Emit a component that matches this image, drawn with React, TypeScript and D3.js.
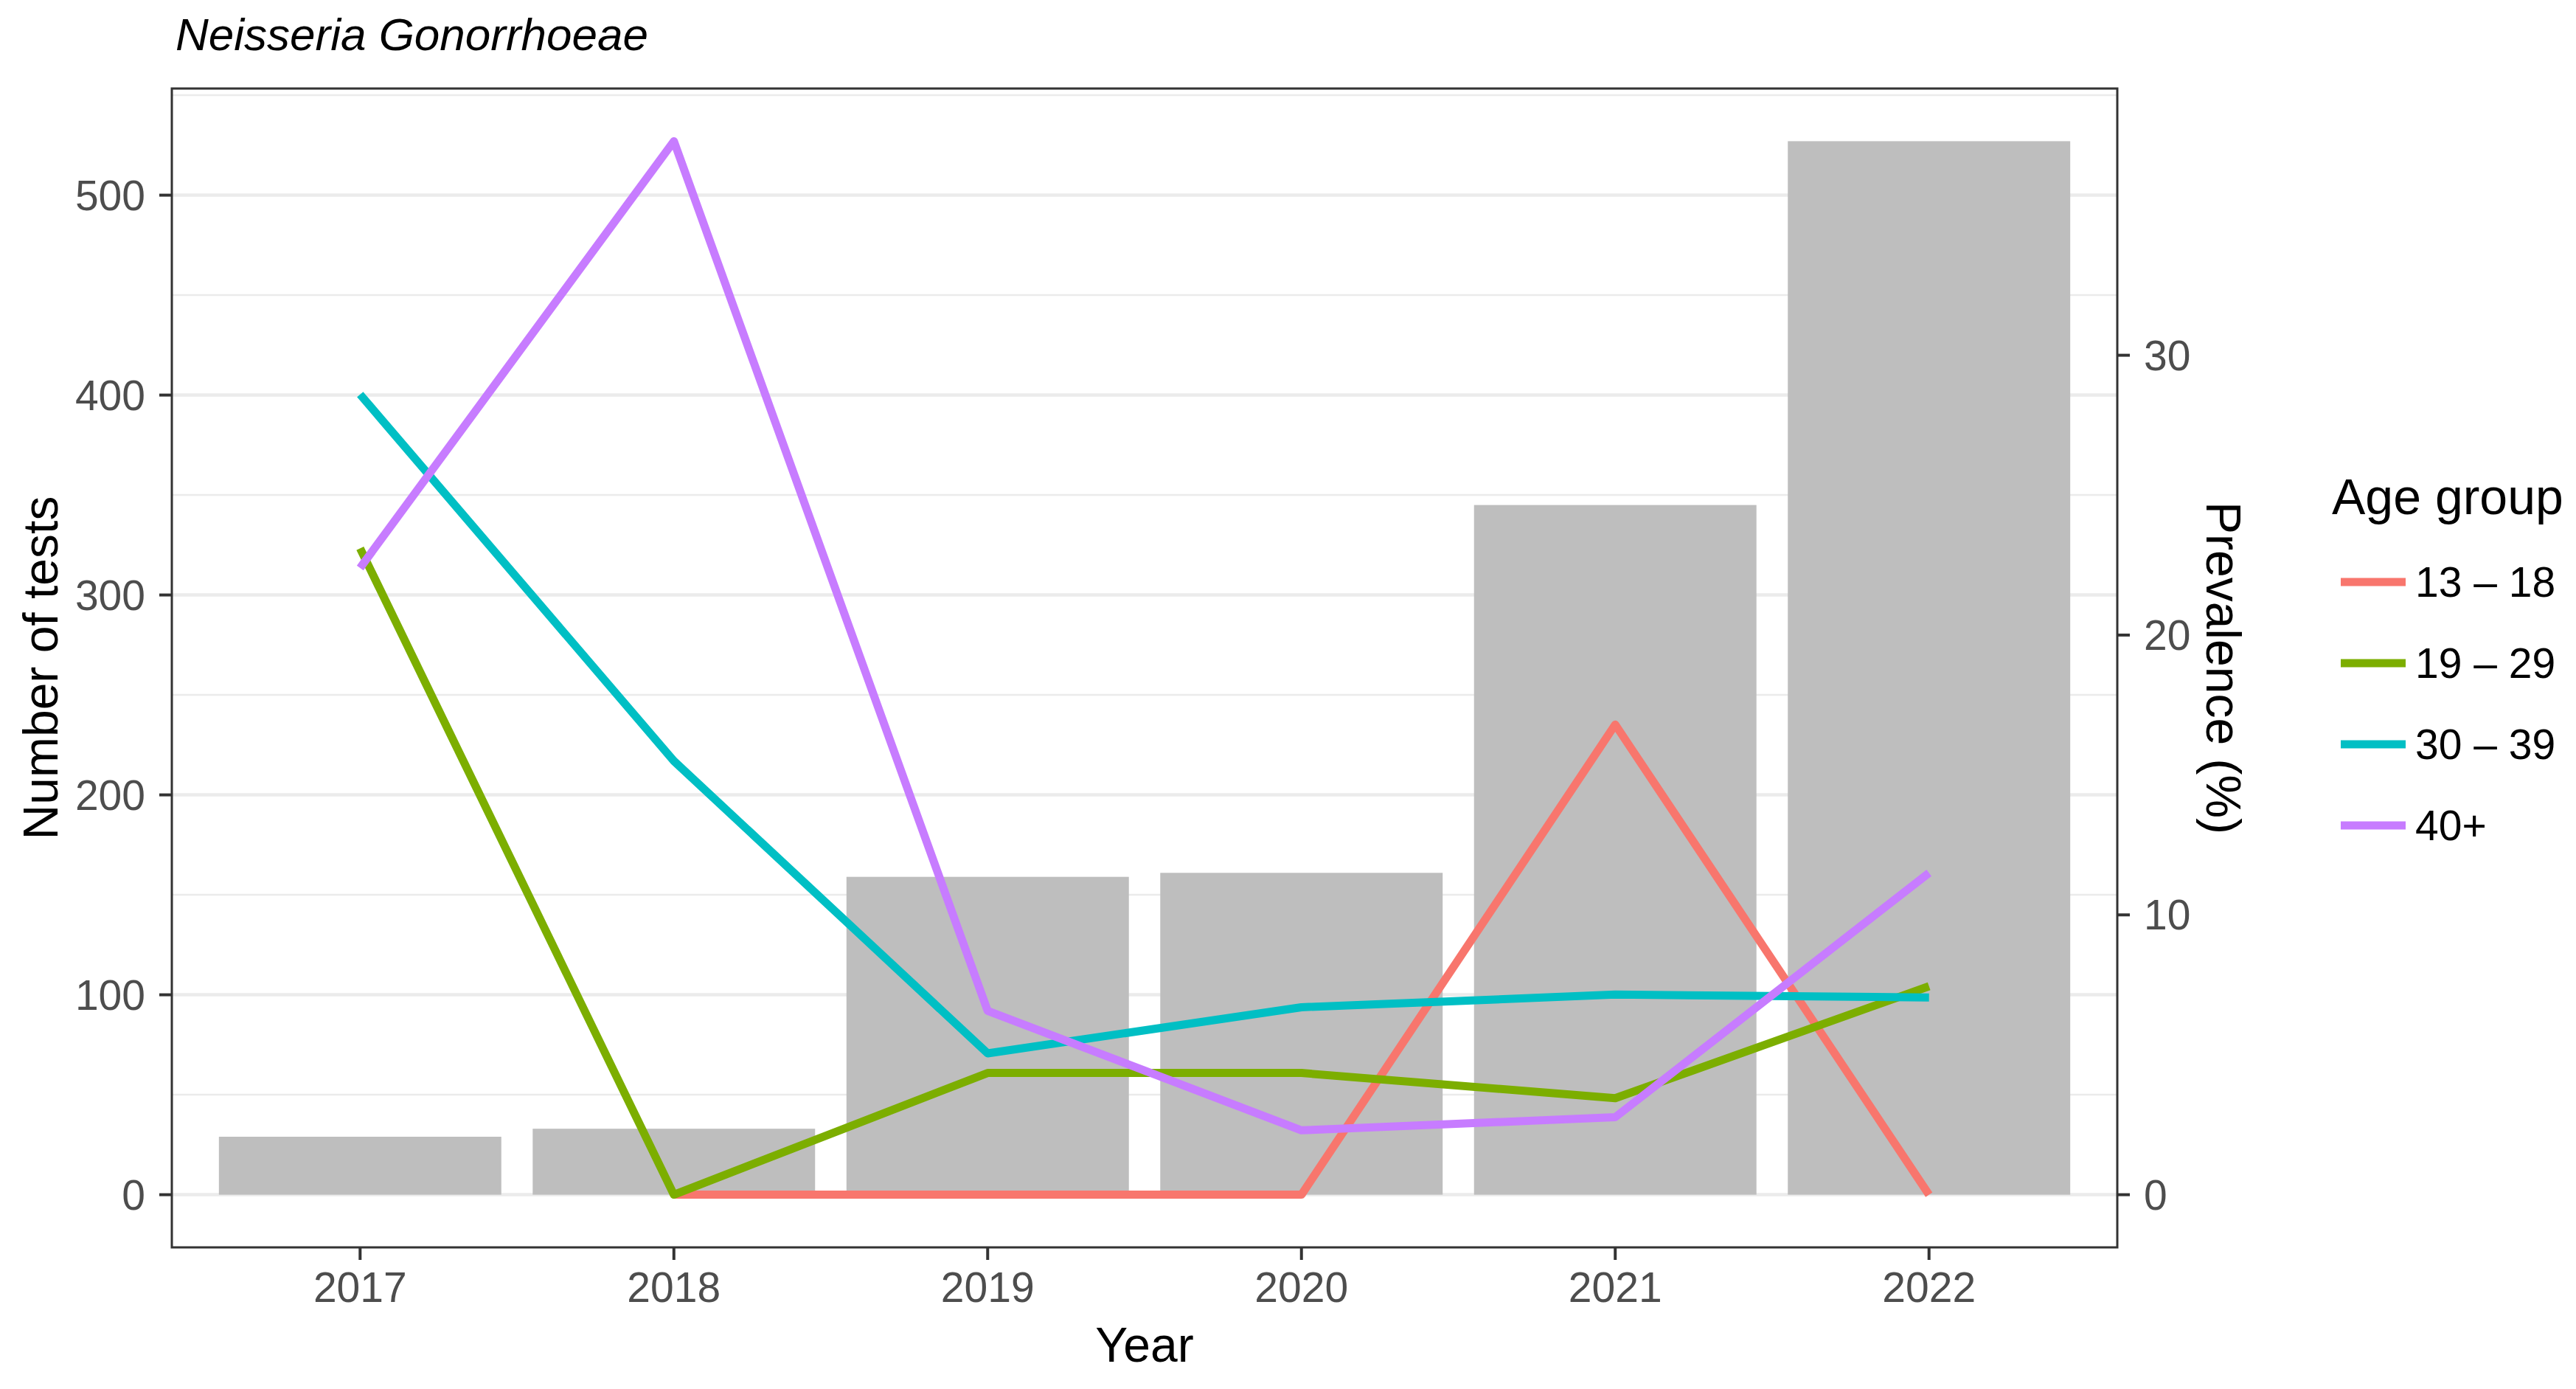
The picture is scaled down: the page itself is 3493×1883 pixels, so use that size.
import React from 'react';
import * as d3 from 'd3';

const years = ['2017', '2018', '2019', '2020', '2021', '2022'];
const tests = [29, 33, 159, 161, 345, 527];
const ageGroups = ['13 – 18', '19 – 29', '30 – 39', '40+'];
const groupColors = ['#F8766D', '#7CAE00', '#00BFC4', '#C77CFF'];
const prev13to18: (number | null)[] = [null, 0, 0, 0, 16.8, 0];
const prev19to29: (number | null)[] = [23.1, 0, 4.35, 4.35, 3.45, 7.45];
const prev30to39: (number | null)[] = [28.6, 15.5, 5.05, 6.7, 7.15, 7.05];
const prev40plus: (number | null)[] = [22.4, 37.65, 6.57, 2.3, 2.77, 11.5];
const leftTicks = [0, 100, 200, 300, 400, 500];
const leftMinor = [50, 150, 250, 350, 450, 550];
const rightTicks = [0, 10, 20, 30];

const W = 3493;
const H = 1883;
const P = { left: 233, right: 2871, top: 120, bottom: 1691 };
const FONT = '"Liberation Sans", Arial, Helvetica, sans-serif';

export default function App() {
  const series = [prev13to18, prev19to29, prev30to39, prev40plus];
  const maxTests = d3.max(tests) as number;
  const maxPrev = d3.max(series.flat().filter((v) => v != null) as number[]) as number;
  const k = maxTests / maxPrev;
  const pad = maxTests * 0.05;

  const x = d3.scalePoint<string>().domain(years).range([P.left, P.right]).padding(0.6);
  const step = x.step();
  const y = d3.scaleLinear().domain([-pad, maxTests + pad]).range([P.bottom, P.top]);
  const yPrev = (p: number) => y(p * k);

  const line = d3
    .line<number | null>()
    .defined((d) => d != null)
    .x((_, i) => x(years[i]) as number)
    .y((d) => yPrev(d as number));

  const tickLen = 17;
  const tickFs = 57;

  return (
    <svg
      width={W}
      height={H}
      style={{ position: 'absolute', left: 0, top: 0, background: '#fff' }}
      fontFamily={FONT}
    >
      <rect x={0} y={0} width={W} height={H} fill="#fff" />
      {/* title */}
      <text x={238} y={68} fontSize={62} fontStyle="italic" fill="#000">
        Neisseria Gonorrhoeae
      </text>

      {/* grid */}
      {leftMinor.map((v) => (
        <line key={'mi' + v} x1={P.left} x2={P.right} y1={y(v)} y2={y(v)} stroke="#EBEBEB" strokeWidth={2.5} />
      ))}
      {leftTicks.map((v) => (
        <line key={'ma' + v} x1={P.left} x2={P.right} y1={y(v)} y2={y(v)} stroke="#EBEBEB" strokeWidth={4.5} />
      ))}

      {/* bars */}
      {tests.map((v, i) => (
        <rect
          key={'b' + i}
          x={(x(years[i]) as number) - step * 0.45}
          width={step * 0.9}
          y={y(v)}
          height={y(0) - y(v)}
          fill="#BEBEBE"
        />
      ))}

      {/* lines */}
      {series.map((s, i) => (
        <path
          key={'l' + i}
          d={line(s) || ''}
          fill="none"
          stroke={groupColors[i]}
          strokeWidth={11}
          strokeLinejoin="round"
        />
      ))}

      {/* panel border */}
      <rect
        x={P.left}
        y={P.top}
        width={P.right - P.left}
        height={P.bottom - P.top}
        fill="none"
        stroke="#333333"
        strokeWidth={3}
      />

      {/* left axis */}
      {leftTicks.map((v) => (
        <g key={'lt' + v}>
          <line x1={P.left - tickLen} x2={P.left} y1={y(v)} y2={y(v)} stroke="#333333" strokeWidth={4} />
          <text
            x={P.left - tickLen - 19}
            y={y(v)}
            fontSize={tickFs}
            fill="#4D4D4D"
            textAnchor="end"
            dominantBaseline="central"
          >
            {v}
          </text>
        </g>
      ))}

      {/* right axis */}
      {rightTicks.map((v) => (
        <g key={'rt' + v}>
          <line x1={P.right} x2={P.right + tickLen} y1={yPrev(v)} y2={yPrev(v)} stroke="#333333" strokeWidth={4} />
          <text
            x={P.right + tickLen + 19}
            y={yPrev(v)}
            fontSize={tickFs}
            fill="#4D4D4D"
            textAnchor="start"
            dominantBaseline="central"
          >
            {v}
          </text>
        </g>
      ))}

      {/* bottom axis */}
      {years.map((yr) => (
        <g key={'bt' + yr}>
          <line
            x1={x(yr) as number}
            x2={x(yr) as number}
            y1={P.bottom}
            y2={P.bottom + tickLen}
            stroke="#333333"
            strokeWidth={4}
          />
          <text x={x(yr) as number} y={1765} fontSize={tickFs} fill="#4D4D4D" textAnchor="middle">
            {yr}
          </text>
        </g>
      ))}

      {/* axis titles */}
      <text x={(P.left + P.right) / 2} y={1846} fontSize={66} textAnchor="middle" fill="#000">
        Year
      </text>
      <text
        transform={`translate(78, ${(P.top + P.bottom) / 2}) rotate(-90)`}
        fontSize={66}
        textAnchor="middle"
        fill="#000"
      >
        Number of tests
      </text>
      <text
        transform={`translate(2992, ${(P.top + P.bottom) / 2}) rotate(90)`}
        fontSize={66}
        textAnchor="middle"
        fill="#000"
      >
        Prevalence (%)
      </text>

      {/* legend */}
      <text x={3162} y={697} fontSize={68} fill="#000">
        Age group
      </text>
      {ageGroups.map((g, i) => {
        const ly = 789 + i * 110;
        return (
          <g key={'lg' + i}>
            <line x1={3174} x2={3262} y1={ly} y2={ly} stroke={groupColors[i]} strokeWidth={11} />
            <text x={3275} y={ly} fontSize={57} fill="#000" dominantBaseline="central">
              {g}
            </text>
          </g>
        );
      })}
    </svg>
  );
}
